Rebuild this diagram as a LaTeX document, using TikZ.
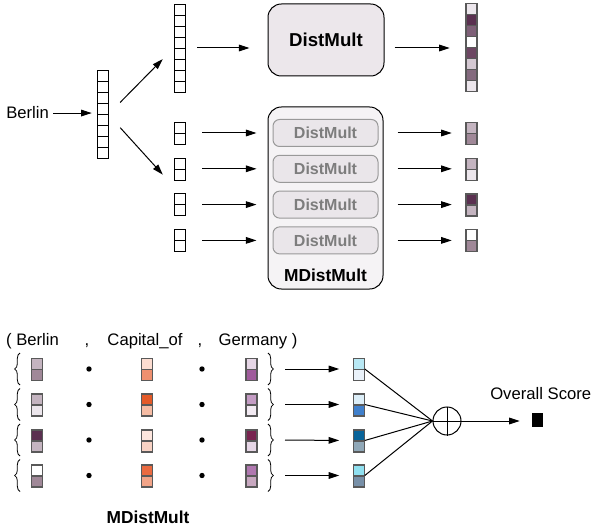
\documentclass[tikz,border=0pt]{standalone}
\usepackage{fontspec}
\setmainfont{Liberation Sans}
\usetikzlibrary{arrows.meta,calc,decorations.pathreplacing}

% box fills
\definecolor{boxfill}{RGB}{236,231,235}
\definecolor{mboxfill}{RGB}{245,243,245}
\definecolor{subfill}{RGB}{234,230,234}
\definecolor{subtext}{RGB}{125,125,125}
% entity (Berlin) shades
\definecolor{ent1}{HTML}{C4B4C0}
\definecolor{ent2}{HTML}{A08898}
\definecolor{ent3}{HTML}{ECE6EC}
\definecolor{ent4}{HTML}{5A3050}
\definecolor{ent5}{HTML}{7F6078}
\definecolor{ent6}{HTML}{6D4763}
\definecolor{ent7}{HTML}{D4C8D2}
\definecolor{ent8}{HTML}{846A7E}
% relation (Capital_of) shades
\definecolor{rel1}{HTML}{FCDCD0}
\definecolor{rel2}{HTML}{EE9070}
\definecolor{rel3}{HTML}{E45A28}
\definecolor{rel4}{HTML}{F6BCA4}
\definecolor{rel5}{HTML}{FDE6DE}
\definecolor{rel6}{HTML}{F8D2C4}
\definecolor{rel7}{HTML}{EA6A40}
\definecolor{rel8}{HTML}{F2A488}
% tail (Germany) shades
\definecolor{tail1}{HTML}{E6D6E6}
\definecolor{tail2}{HTML}{A05C9C}
\definecolor{tail3}{HTML}{C49CC4}
\definecolor{tail4}{HTML}{F2EAF2}
\definecolor{tail5}{HTML}{782450}
\definecolor{tail6}{HTML}{B078B0}
\definecolor{tail7}{HTML}{C8A8C0}
% score shades
\definecolor{sc1}{HTML}{B8E8F4}
\definecolor{sc2}{HTML}{EAF2FA}
\definecolor{sc3}{HTML}{DCEEF8}
\definecolor{sc4}{HTML}{4080CC}
\definecolor{sc5}{HTML}{08649A}
\definecolor{sc6}{HTML}{90A8B8}
\definecolor{sc7}{HTML}{90E0F0}
\definecolor{sc8}{HTML}{7890A8}

\tikzset{
  cell/.style={draw=black, line width=0.6pt, inner sep=0pt, minimum width=8.25pt, minimum height=8.25pt},
  ccell/.style={cell, draw=black!65, line width=1pt},
  vecbox/.style={inner sep=0pt, minimum width=8.25pt},
  arr/.style={-{Triangle[length=8pt,width=5pt]}, line width=0.75pt},
  txt/.style={font=\fontsize{12.5}{15}\selectfont, inner sep=0.75pt},
  btxt/.style={font=\fontsize{13}{15}\selectfont\bfseries, inner sep=0.75pt},
  dmbox/.style={draw, line width=0.75pt, rounded corners=10pt, fill=boxfill, font=\fontsize{14}{16}\selectfont\bfseries},
  subbox/.style={draw=black!40, line width=0.75pt, rounded corners=5pt, fill=subfill, text=subtext, minimum width=78.75pt, minimum height=20.25pt, inner sep=0pt, font=\fontsize{12}{14}\selectfont\bfseries},
  dot/.style={circle, fill, inner sep=0pt, minimum size=4pt},
  brc/.style={decorate, decoration={brace, amplitude=4pt}, line width=0.6pt},
}

% column vector: [cell style]{name}{x}{y}{number of cells}{fills}
\newcommand{\cellvec}[6][cell]{%
  \node[vecbox, minimum height=#5*8.25pt] (#2) at (#3,#4) {};
  \foreach \f [count=\k] in {#6}
    \node[#1, fill=\f, anchor=north] (#2-\k) at ($(#2.north)+(0,{11*(\k-1)})$) {};
}

\begin{document}
\begin{tikzpicture}[x=0.75pt,y=0.75pt,yscale=-1,xscale=1]
\useasboundingbox (0,0) rectangle (593,531);

%%%%%%%% upper part
% Text Node
\node[txt, anchor=base west] (berlin) at (5,119) {Berlin};
% Vectors
\cellvec{emb}{102.5}{114.5}{8}{white,white,white,white,white,white,white,white}
\cellvec{full}{179.5}{48}{8}{white,white,white,white,white,white,white,white}
\cellvec{p1}{179.5}{133}{2}{white,white}
\cellvec{p2}{179.5}{168.8}{2}{white,white}
\cellvec{p3}{179.5}{204.6}{2}{white,white}
\cellvec{p4}{179.5}{240.4}{2}{white,white}
\coordinate (parts) at ($(p2.west)!0.5!(p3.west)$);

%Straight Lines
\draw[arr, shorten <=2.25pt, shorten >=3.75pt] (berlin.east) -- (berlin.east -| emb.west);
\draw[arr, shorten <=12.7pt, shorten >=11.7pt] (emb.east) -- (full.west);
\draw[arr, shorten <=13.3pt, shorten >=12.2pt] (emb.east) -- (parts);

% DistMult
\node[dmbox, minimum width=87pt, minimum height=54pt] (dm) at (326,40) {DistMult};
\cellvec[ccell]{out}{471.5}{47}{8}{ent3,ent4,ent5,white,ent6,ent7,ent8,ent3}
\draw[arr, shorten <=9pt, shorten >=13.5pt] (full.east) -- (full.east -| dm.west);
\draw[arr, shorten <=7.5pt, shorten >=12pt] (full.east -| dm.east) -- (full.east -| out.west);

% MDistMult
\node[dmbox, fill=mboxfill, minimum width=86.25pt, minimum height=136.5pt] (mdm) at (325.5,198) {};
\node[btxt, anchor=base] (mname) at (325.5,281.5) {MDistMult};
\node[subbox] (s1) at (325.5,133) {DistMult};
\node[subbox] (s2) at (325.5,168.8) {DistMult};
\node[subbox] (s3) at (325.5,204.6) {DistMult};
\node[subbox] (s4) at (325.5,240.4) {DistMult};
\cellvec[ccell]{o1}{471.5}{133}{2}{ent1,ent2}
\cellvec[ccell]{o2}{471.5}{168.8}{2}{ent1,ent3}
\cellvec[ccell]{o3}{471.5}{204.6}{2}{ent4,ent1}
\cellvec[ccell]{o4}{471.5}{240.4}{2}{white,ent2}
\foreach \i in {1,...,4} {
  \draw[arr, shorten <=12.75pt, shorten >=12pt] (p\i.east) -- (s\i.west);
  \draw[arr, shorten <=14.25pt, shorten >=10.5pt] (s\i.east) -- (o\i.west);
}

%%%%%%%% lower part
% Text Node
\node[txt, anchor=base] (h1) at (32.5,345) {( Berlin};
\node[txt, anchor=base] (h2) at (87,345) {,};
\node[txt, anchor=base] (h3) at (145,345) {Capital\_of};
\node[txt, anchor=base] (h4) at (200,345) {,};
\node[txt, anchor=base] (h5) at (258,345) {Germany )};

% Row 1
\cellvec[ccell]{b1}{37}{369}{2}{ent1,ent2}
\cellvec[ccell]{c1}{147}{369}{2}{rel1,rel2}
\cellvec[ccell]{g1}{251.5}{369}{2}{tail1,tail2}
\cellvec[ccell]{e1}{359}{369}{2}{sc1,sc2}
% Row 2
\cellvec[ccell]{b2}{37}{404.5}{2}{ent1,ent3}
\cellvec[ccell]{c2}{147}{404.5}{2}{rel3,rel4}
\cellvec[ccell]{g2}{251.5}{404.5}{2}{tail3,tail4}
\cellvec[ccell]{e2}{359}{404.5}{2}{sc3,sc4}
% Row 3
\cellvec[ccell]{b3}{37}{440.5}{2}{ent4,ent1}
\cellvec[ccell]{c3}{147}{440.5}{2}{rel5,rel6}
\cellvec[ccell]{g3}{251.5}{440.5}{2}{tail5,tail1}
\cellvec[ccell]{e3}{359}{440.5}{2}{sc5,sc6}
% Row 4
\cellvec[ccell]{b4}{37}{475.5}{2}{white,ent2}
\cellvec[ccell]{c4}{147}{475.5}{2}{rel7,rel8}
\cellvec[ccell]{g4}{251.5}{475.5}{2}{tail6,tail7}
\cellvec[ccell]{e4}{359}{475.5}{2}{sc7,sc8}

% sum and score
\node[circle, draw, line width=0.75pt, minimum size=21pt, inner sep=0pt] (sum) at (447,421) {};
\draw[line width=0.75pt] (sum.north) -- (sum.south) (sum.west) -- (sum.east);
\node[fill=black, inner sep=0pt, minimum width=8.25pt, minimum height=10.5pt] (score) at (537.5,420) {};
\node[txt, anchor=base west] (otxt) at (489,399) {Overall Score};
\draw[arr, shorten >=9pt] (sum.east) -- (sum.east -| score.west);

\foreach \i in {1,...,4} {
  \node[dot] (d\i a) at (89,{369+35.5*(\i-1)}) {};
  \node[dot] (d\i b) at (202,{369+35.5*(\i-1)}) {};
  \draw[brc] (20,{369+35.5*(\i-1)+16}) -- (20,{369+35.5*(\i-1)-16});
  \draw[brc] (268,{369+35.5*(\i-1)-16}) -- (268,{369+35.5*(\i-1)+16});
  \coordinate (r\i) at (276,{369+35.5*(\i-1)});
  \draw[arr, shorten <=6.75pt, shorten >=10.5pt] (r\i) -- (e\i.west);
  \draw[line width=0.75pt] (e\i.east) -- (sum.west);
}

% Text Node
\node[btxt, anchor=base] (mname2) at (148,523) {MDistMult};
\end{tikzpicture}
\end{document}
